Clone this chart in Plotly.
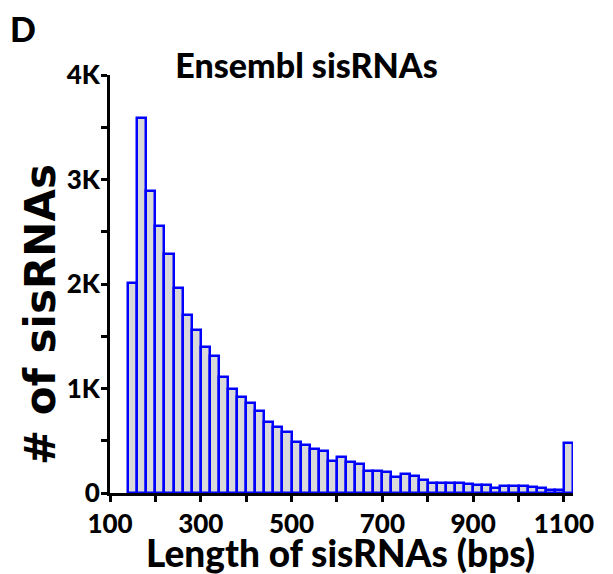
import plotly.graph_objects as go

# Bins: 20 bp wide, starting at 140 bp (last bin is the >=1100 overflow bin)
bin_width = 20
bin_starts = list(range(140, 1120, 20))
counts = [
    2010, 3590, 2890, 2555, 2290, 1960, 1700, 1560, 1400, 1310,
    1110, 1000, 915, 860, 785, 680, 632, 580, 490, 455,
    420, 400, 305, 340, 300, 278, 215, 215, 205, 150,
    180, 165, 125, 100, 100, 100, 100, 85, 75, 75,
    50, 65, 65, 65, 60, 50, 30, 30, 480,
]
x_tickvals = [100, 300, 500, 700, 900, 1100]
y_tickvals = [0, 1000, 2000, 3000, 4000]
y_ticktext = ["0", "1K", "2K", "3K", "4K"]

centers = [s + bin_width / 2 for s in bin_starts]

FONT = "Lato"

fig = go.Figure()
fig.add_trace(go.Bar(
    x=centers, y=counts, width=bin_width,
    marker=dict(color="#d9d9d9", line=dict(color="#0000ff", width=2.5)),
    showlegend=False,
))

W, H = 613, 574
L, R, T, B = 110, 40, 75, 81
pw, ph = W - L - R, H - T - B

def px2paper(px, py):
    return (px - L) / pw, (H - B - py) / ph

tickfont = dict(size=26, family=FONT, color="black", weight=900)

fig.update_layout(
    width=W, height=H,
    margin=dict(l=L, r=R, t=T, b=B),
    plot_bgcolor="white", paper_bgcolor="white",
    bargap=0,
    font=dict(family=FONT, color="black"),
    title=dict(text="Ensembl sisRNAs", x=0.5, xref="container",
               y=1 - 66 / H, yref="container", yanchor="middle", xanchor="center",
               font=dict(size=34, family=FONT, color="black", weight=900)),
    xaxis=dict(
        range=[100, 1120], tickmode="array", tickvals=x_tickvals,
        showgrid=False, zeroline=False,
        showline=True, linecolor="black", linewidth=3,
        ticks="outside", ticklen=6, tickwidth=3, tickcolor="black",
        tickfont=tickfont,
        minor=dict(tickmode="array", tickvals=[200, 400, 600, 800, 1000],
                   ticks="outside", ticklen=6, tickwidth=3, tickcolor="black"),
    ),
    yaxis=dict(
        range=[0, 4000], tickmode="array", tickvals=y_tickvals, ticktext=y_ticktext,
        showgrid=False, zeroline=False,
        showline=True, linecolor="black", linewidth=3,
        ticks="outside", ticklen=6, tickwidth=3, tickcolor="black",
        tickfont=tickfont, ticklabelstandoff=-4,
        minor=dict(tickmode="array", tickvals=[500, 1500, 2500, 3500],
                   ticks="outside", ticklen=6, tickwidth=3, tickcolor="black"),
    ),
)

ax, ay = px2paper(340, 552)
fig.add_annotation(text="Length of sisRNAs (bps)", x=ax, y=ay, xref="paper", yref="paper",
                   showarrow=False, xanchor="center", yanchor="middle",
                   font=dict(size=37, family=FONT, color="black", weight=900))
ax, ay = px2paper(40, 315)
fig.add_annotation(text="# of sisRNAs", x=ax, y=ay, xref="paper", yref="paper",
                   showarrow=False, xanchor="center", yanchor="middle", textangle=-90,
                   font=dict(size=42, family="DejaVu Sans", color="black", weight="bold"))
ax, ay = px2paper(23, 29)
fig.add_annotation(text="D", x=ax, y=ay, xref="paper", yref="paper",
                   showarrow=False, xanchor="center", yanchor="middle",
                   font=dict(size=34, family=FONT, color="black", weight=900))

fig.write_html("out.html")
